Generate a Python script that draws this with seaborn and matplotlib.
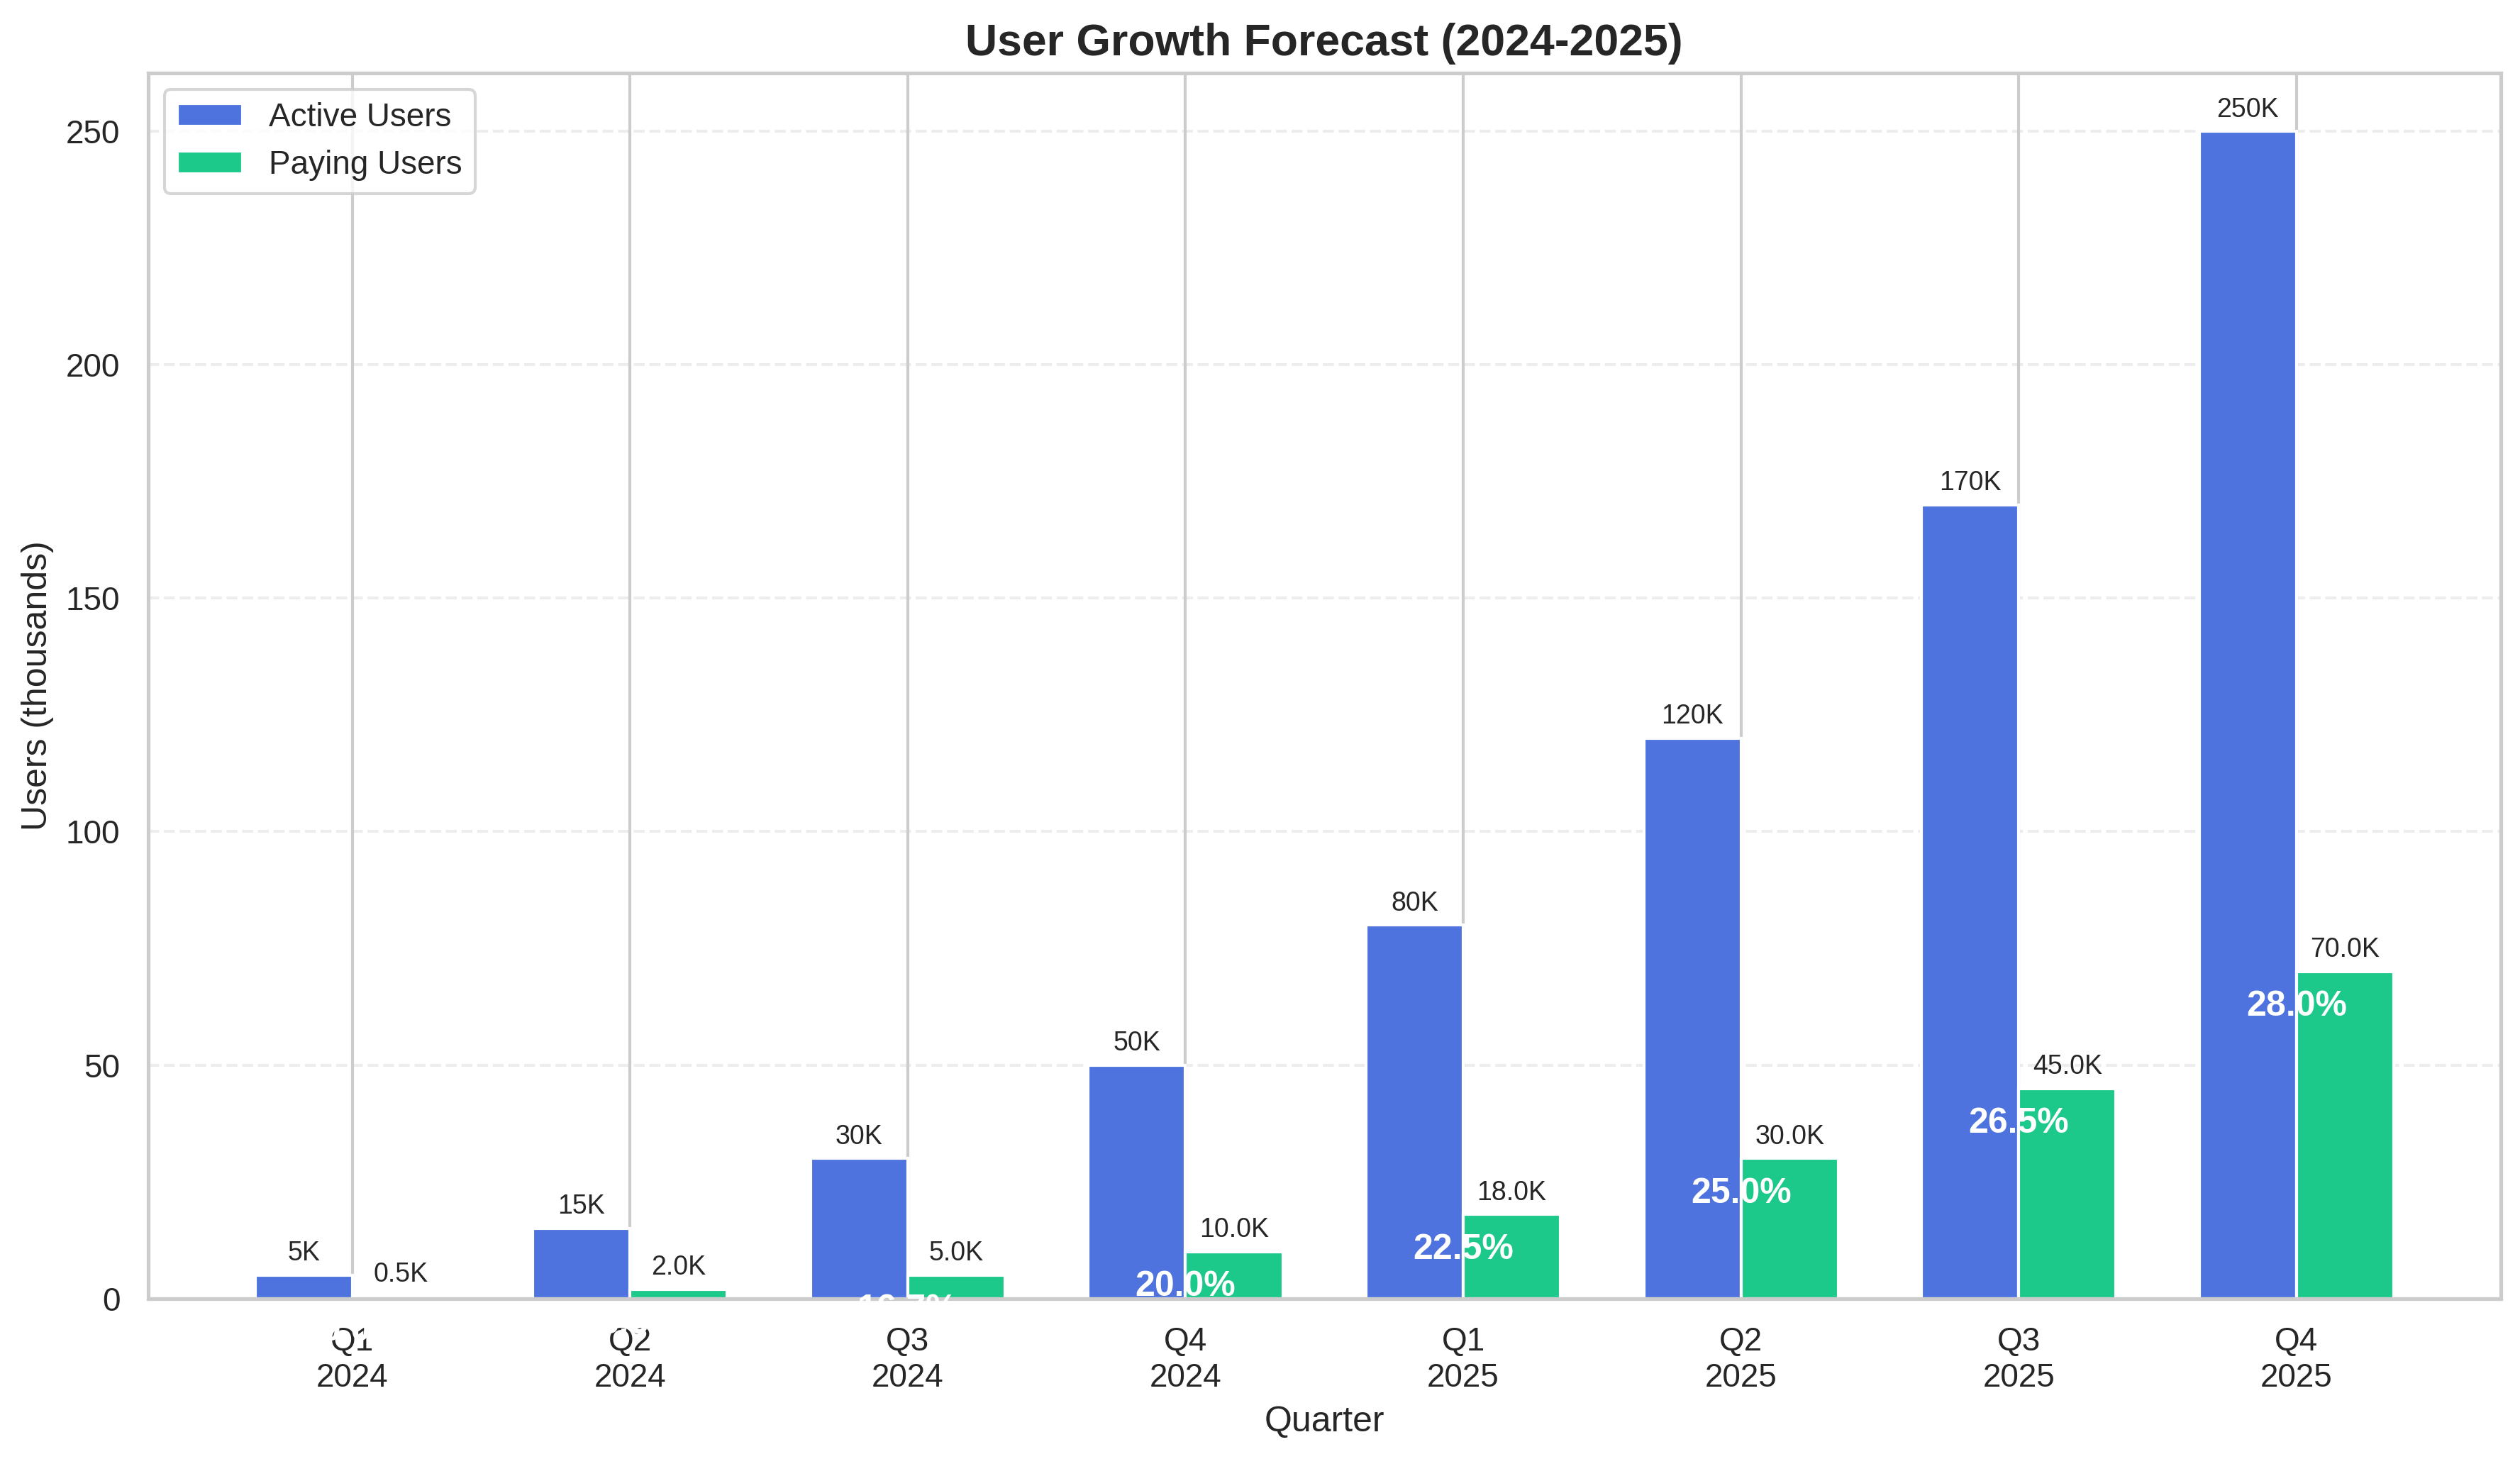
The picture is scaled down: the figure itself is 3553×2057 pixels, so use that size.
import matplotlib
matplotlib.use('Agg')
import matplotlib.pyplot as plt
import seaborn as sns
import pandas as pd
import numpy as np

# ==========================================
# Data (thousands of users per quarter)
# ==========================================
quarters = ['Q1\n2024', 'Q2\n2024', 'Q3\n2024', 'Q4\n2024',
            'Q1\n2025', 'Q2\n2025', 'Q3\n2025', 'Q4\n2025']
active_users = [5, 15, 30, 50, 80, 120, 170, 250]
paying_users = [0.5, 2, 5, 10, 18, 30, 45, 70]
series_names = ['Active Users', 'Paying Users']
series_colors = ['#4E73DF', '#1CC88A']

# ==========================================
# Style
# ==========================================
sns.set_theme(style='whitegrid')
plt.rcParams['font.family'] = ['Liberation Sans', 'DejaVu Sans']

df = pd.DataFrame({
    'quarter': quarters,
    series_names[0]: active_users,
    series_names[1]: paying_users,
})
df_long = df.melt(id_vars='quarter', var_name='type', value_name='users')

fig, ax = plt.subplots(figsize=(3554 / 300, 2057 / 300), dpi=300)

sns.barplot(data=df_long, x='quarter', y='users', hue='type',
            hue_order=series_names, palette=series_colors,
            width=0.7, edgecolor='white', linewidth=1,
            saturation=1, ax=ax)

# barplot switches off the x grid and tightens the limits, put them back
ax.set_xlim(-0.735, len(quarters) - 1 + 0.735)
ax.xaxis.grid(True, color='.8', linestyle='-', linewidth=1)
ax.yaxis.grid(True, linestyle='--', alpha=0.35)
ax.set_axisbelow(True)

# value labels on top of the bars
ax.bar_label(ax.containers[0], labels=[f'{v:.0f}K' for v in active_users],
             padding=3, fontsize=9)
ax.bar_label(ax.containers[1], labels=[f'{v:.1f}K' for v in paying_users],
             padding=3, fontsize=9)

# conversion rate between the bars
offset = max(active_users) * 0.03
for i, (a, p) in enumerate(zip(active_users, paying_users)):
    ax.text(i, p - offset, f'{p / a * 100:.1f}%', ha='center', va='center',
            color='white', fontsize=12, fontweight='bold', clip_on=False)

for spine in ax.spines.values():
    spine.set_visible(True)
    spine.set_color('.8')
    spine.set_linewidth(1.25)

ax.set_title('User Growth Forecast (2024-2025)', fontsize=15, fontweight='bold')
ax.set_xlabel('Quarter', fontsize=12)
ax.set_ylabel('Users (thousands)', fontsize=12)
ax.tick_params(axis='both', labelsize=11)

handles, labels = ax.get_legend_handles_labels()
ax.legend(handles, labels, loc='upper left', fontsize=11)

fig.subplots_adjust(left=0.0588, right=0.992, top=0.950, bottom=0.110)
plt.savefig('out.png', dpi=300)
plt.close()
